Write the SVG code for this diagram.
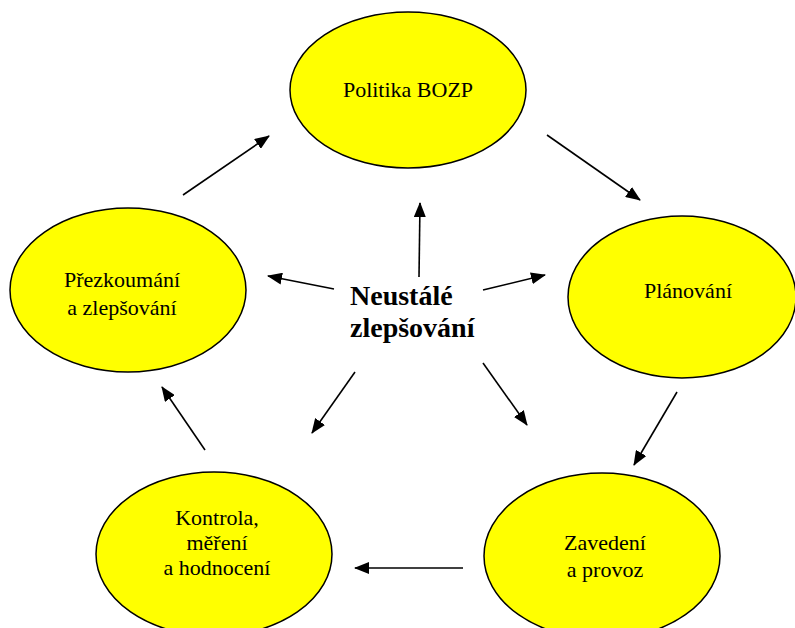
<svg xmlns="http://www.w3.org/2000/svg" width="795" height="628" viewBox="0 0 795 628">
<style>
.n{fill:#ffff00;stroke:#000;stroke-width:1.5}
.t{font-family:'Liberation Serif',serif;font-size:22px;fill:#000;text-anchor:middle}
.c{font-family:'Liberation Serif',serif;font-size:28px;font-weight:bold;fill:#000}
.a{stroke:#000;stroke-width:1.6;fill:none;marker-end:url(#ah)}
</style>
<defs>
<marker id="ah" markerUnits="userSpaceOnUse" markerWidth="16" markerHeight="12" refX="14" refY="6" orient="auto">
<path d="M0,0 L15,6 L0,12 Z" fill="#000"/>
</marker>
</defs>
<rect width="795" height="628" fill="#fff"/>
<g id="politika"><ellipse class="n" cx="408" cy="90" rx="118" ry="78"/><text class="t" x="408" y="97">Politika BOZP</text></g>
<g id="planovani"><ellipse class="n" cx="682" cy="297" rx="114" ry="81"/><text class="t" x="688" y="298">Plánování</text></g>
<g id="zavedeni"><ellipse class="n" cx="602" cy="556" rx="118" ry="83"/><text class="t" x="605" y="550">Zavedení</text><text class="t" x="605" y="577">a provoz</text></g>
<g id="kontrola"><ellipse class="n" cx="214" cy="554" rx="118" ry="82"/><text class="t" x="217" y="525">Kontrola,</text><text class="t" x="217" y="550">měření</text><text class="t" x="217" y="575">a hodnocení</text></g>
<g id="prezkoumani"><ellipse class="n" cx="128" cy="290" rx="118" ry="82"/><text class="t" x="122" y="287">Přezkoumání</text><text class="t" x="122" y="315">a zlepšování</text></g>
<g id="center"><text class="c" x="350" y="305">Neustálé</text><text class="c" x="350" y="337">zlepšování</text></g>
<g id="connectors">
<line class="a" x1="547" y1="135" x2="640" y2="200"/>
<line class="a" x1="677" y1="392" x2="634" y2="465"/>
<line class="a" x1="463" y1="568" x2="355" y2="568"/>
<line class="a" x1="205" y1="450" x2="162" y2="387"/>
<line class="a" x1="183" y1="195" x2="269" y2="136"/>
<line class="a" x1="419" y1="277" x2="420" y2="203"/>
<line class="a" x1="334" y1="289" x2="268" y2="276"/>
<line class="a" x1="483" y1="290" x2="545" y2="275"/>
<line class="a" x1="355" y1="372" x2="312" y2="433"/>
<line class="a" x1="483" y1="363" x2="527" y2="425"/>
</g>
</svg>
